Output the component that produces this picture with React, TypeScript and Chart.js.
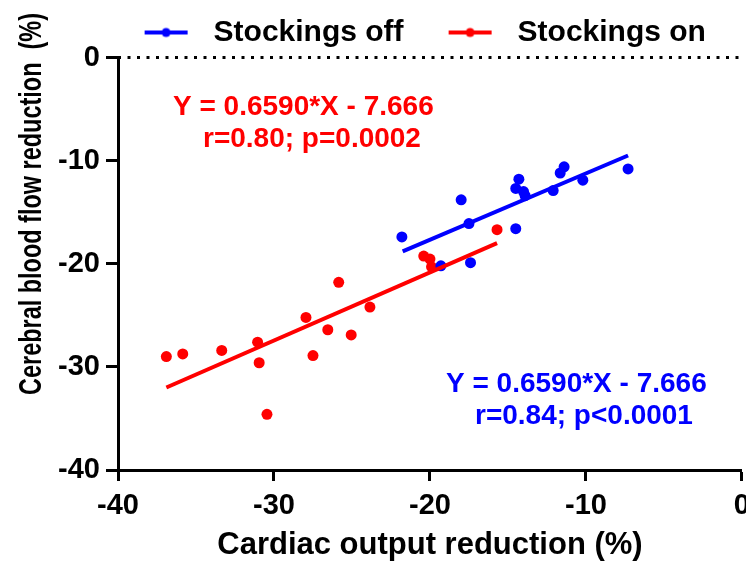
import { useEffect, useRef } from 'react';
import { Chart, registerables } from 'chart.js';

Chart.register(...registerables);

// ---- data ----
const offX = [-21.8, -18.0, -17.5, -17.4, -19.3, -14.5, -14.3, -14.5, -14.0, -13.9, -12.1, -11.65, -11.4, -10.2, -7.3];
const offY = [-17.4, -13.8, -16.1, -19.9, -20.2, -16.6, -11.8, -12.7, -13.0, -13.4, -12.9, -11.2, -10.6, -11.9, -10.8];
const onX = [-36.9, -35.85, -33.35, -31.05, -30.95, -30.45, -27.95, -27.5, -26.55, -25.85, -25.05, -23.85, -20.4, -20.0, -19.9, -15.7];
const onY = [-29.0, -28.75, -28.4, -27.6, -29.6, -34.6, -25.2, -28.9, -26.4, -21.8, -26.9, -24.2, -19.25, -19.55, -20.3, -16.7];
const offFitX = [-21.75, -7.3];
const offFitY = [-18.8, -9.5];
const onFitX = [-36.9, -15.7];
const onFitY = [-32.0, -18.0];
const zeroLineX = [-40, 0];
const zeroLineY = [0, 0];
const xTicks = [-40, -30, -20, -10, 0];
const xTickLabels = ['-40', '-30', '-20', '-10', '0'];
const yTicks = [-40, -30, -20, -10, 0];
const yTickLabels = ['-40', '-30', '-20', '-10', '0'];
const seriesNames = ['Stockings off', 'Stockings on'];
const xTitle = 'Cardiac output reduction (%)';
const yTitle = 'Cerebral blood flow reduction  (%)';
const redEquation = ['Y = 0.6590*X - 7.666', 'r=0.80; p=0.0002'];
const blueEquation = ['Y = 0.6590*X - 7.666', 'r=0.84; p<0.0001'];

const BLUE = '#0000ff';
const RED = '#ff0000';
const FONT = "'Liberation Sans', Arial, sans-serif";

const pts = (xs: number[], ys: number[]) => xs.map((x, i) => ({ x, y: ys[i] }));

// legend symbol: short line with a dot, left gap and right gap included
const MARK_LEFT = 39;
const MARK_LINE = 43;
const MARK_RIGHT = 11;
const MARK_W = MARK_LEFT + MARK_LINE + MARK_RIGHT;

function legendMark(color: string) {
  const c = document.createElement('canvas');
  c.width = MARK_W;
  c.height = 12;
  const g = c.getContext('2d')!;
  g.strokeStyle = color;
  g.lineWidth = 4;
  g.beginPath();
  g.moveTo(MARK_LEFT, 6);
  g.lineTo(MARK_LEFT + MARK_LINE, 6);
  g.stroke();
  g.fillStyle = color;
  g.beginPath();
  g.arc(MARK_LEFT + MARK_LINE / 2, 6, 4.5, 0, Math.PI * 2);
  g.fill();
  return c;
}

export default function App() {
  const ref = useRef<HTMLCanvasElement | null>(null);

  useEffect(() => {
    document.body.style.margin = '0';
    document.body.style.overflow = 'hidden';
    const canvas = ref.current!;
    const marks = [legendMark(BLUE), legendMark(RED)];

    const textPlugin = {
      id: 'texts',
      afterDraw(chart: any) {
        const ctx = chart.ctx;
        ctx.save();
        ctx.fillStyle = '#000';
        ctx.font = `bold 31px ${FONT}`;
        ctx.textAlign = 'center';
        ctx.textBaseline = 'middle';
        ctx.translate(32, 204);
        ctx.rotate(-Math.PI / 2);
        ctx.scale(0.757, 1);
        ctx.fillText(yTitle, 0, 0);
        ctx.restore();

        ctx.save();
        ctx.font = `bold 28px ${FONT}`;
        ctx.textAlign = 'left';
        ctx.textBaseline = 'alphabetic';
        ctx.fillStyle = RED;
        ctx.fillText(redEquation[0], 173, 115);
        ctx.fillText(redEquation[1], 203, 147);
        ctx.fillStyle = BLUE;
        ctx.fillText(blueEquation[0], 446, 392);
        ctx.fillText(blueEquation[1], 475, 424);
        ctx.restore();
      },
    };

    const chart = new Chart(canvas, {
      type: 'scatter',
      data: {
        datasets: [
          {
            label: 'zero',
            data: pts(zeroLineX, zeroLineY),
            showLine: true,
            borderColor: '#000',
            borderWidth: 3,
            borderDash: [3, 6.5],
            pointRadius: 0,
            clip: false,
          } as any,
          {
            label: 'offFit',
            data: pts(offFitX, offFitY),
            showLine: true,
            borderColor: BLUE,
            borderWidth: 4,
            pointRadius: 0,
          },
          {
            label: 'onFit',
            data: pts(onFitX, onFitY),
            showLine: true,
            borderColor: RED,
            borderWidth: 4,
            pointRadius: 0,
          },
          {
            label: seriesNames[0],
            data: pts(offX, offY),
            backgroundColor: BLUE,
            borderWidth: 0,
            pointRadius: 5.5,
          },
          {
            label: seriesNames[1],
            data: pts(onX, onY),
            backgroundColor: RED,
            borderWidth: 0,
            pointRadius: 5.5,
          },
        ],
      },
      options: {
        animation: false,
        responsive: false,
        events: [],
        layout: { padding: { left: 51.5, right: 0, top: 11.5, bottom: 0 } },
        plugins: {
          tooltip: { enabled: false },
          legend: {
            position: 'top',
            labels: {
              usePointStyle: true,
              pointStyleWidth: MARK_W,
              padding: 6,
              color: '#000',
              font: { family: FONT, size: 30, weight: 'bold' },
              generateLabels: () =>
                seriesNames.map((name, i) => ({
                  text: name,
                  pointStyle: marks[i],
                  fillStyle: i === 0 ? BLUE : RED,
                  strokeStyle: i === 0 ? BLUE : RED,
                  lineWidth: 0,
                  hidden: false,
                  datasetIndex: 3 + i,
                  fontColor: '#000',
                })) as any,
            },
          },
        },
        scales: {
          x: {
            type: 'linear',
            min: -40,
            max: 0,
            afterBuildTicks: (s: any) => {
              s.ticks = xTicks.map((v) => ({ value: v }));
            },
            ticks: {
              color: '#000',
              padding: 10,
              maxRotation: 0,
              font: { family: FONT, size: 29, weight: 'bold', lineHeight: 1 },
              callback: (_v: any, i: number) => xTickLabels[i],
            },
            grid: {
              drawOnChartArea: false,
              drawTicks: true,
              tickLength: 11,
              tickWidth: 3,
              tickColor: '#000',
            },
            border: { display: true, color: '#000', width: 3 },
            title: {
              display: true,
              text: xTitle,
              color: '#000',
              font: { family: FONT, size: 31, weight: 'bold', lineHeight: 1 },
              padding: { top: 0, bottom: 2 },
            },
          },
          y: {
            type: 'linear',
            position: 'left',
            min: -40,
            max: 0,
            afterBuildTicks: (s: any) => {
              s.ticks = yTicks.map((v) => ({ value: v }));
            },
            afterFit: (s: any) => {
              s.width = 66.5;
            },
            ticks: {
              color: '#000',
              padding: 6,
              font: { family: FONT, size: 29, weight: 'bold', lineHeight: 1 },
              callback: (_v: any, i: number) => yTickLabels[i],
            },
            grid: {
              drawOnChartArea: false,
              drawTicks: true,
              tickLength: 12,
              tickWidth: 3,
              tickColor: '#000',
            },
            border: { display: true, color: '#000', width: 3 },
          },
        },
      },
      plugins: [textPlugin],
    });

    return () => chart.destroy();
  }, []);

  return (
    <div style={{ width: 746, height: 563, overflow: 'hidden' }}>
      <canvas ref={ref} width={760} height={563} style={{ display: 'block' }} />
    </div>
  );
}
